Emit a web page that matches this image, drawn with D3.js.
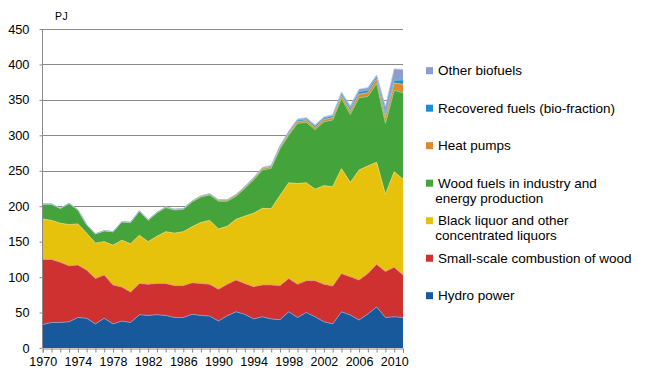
<!DOCTYPE html>
<html>
<head>
<meta charset="utf-8">
<script src="https://cdn.jsdelivr.net/npm/d3@7"></script>
<style>
  body { margin: 0; background: #fff; }
  svg { display: block; font-family: Arial, "Liberation Sans", sans-serif; }
</style>
</head>
<body>
<svg id="chart" width="645" height="380"></svg>
<script>
const years = d3.range(1970, 2012);

const hydroPower = [33, 36, 36, 37, 43, 42, 34, 42, 34, 38, 36, 47, 46, 47, 46, 43, 43, 47.5, 46, 45,
  38, 45.5, 51, 47.5, 41, 44, 41, 40, 51, 43, 50, 44, 37, 34, 51, 46.5, 39.5, 48, 58, 43, 44, 43];
const smallScaleWood = [92, 89, 85, 79, 74, 68, 64, 61, 55, 48, 43, 44, 44, 44, 45, 45, 45, 44.5, 45, 45,
  45, 44.5, 45, 43.5, 45.5, 45, 48, 48, 47, 47, 45, 51, 53, 53.5, 54, 54, 56.5, 57, 60, 65, 70, 60];
const blackLiquor = [57, 55, 55, 58, 58, 52, 50, 47, 56, 66, 68, 68, 60, 66.5, 73, 74, 76, 79, 86, 90,
  85, 81.6, 85.5, 95, 103.5, 108, 107.5, 127, 135, 142, 138, 129, 139, 140, 148, 133, 155, 151.7, 144, 108.7, 134.7, 135];
const woodFuels = [21, 23, 21, 30, 20, 12, 13, 15.5, 19, 26, 30, 34, 30, 33, 34, 32.6, 31.6, 35, 36, 36,
  39, 35.4, 32.5, 39, 47, 54, 57, 66, 67, 85, 85, 84, 90, 94, 99, 96, 102, 98, 111, 100, 115, 122];
const heatPumps = [0, 0, 0, 0, 0, 0, 0, 0, 0, 0, 0.3, 0.5, 0.7, 0.9, 1, 1.1, 1.2, 1.3, 1.4, 1.5,
  1.6, 1.7, 1.8, 1.9, 2, 2.1, 2.2, 2.3, 2.5, 2.6, 2.8, 3, 3.2, 3.5, 4, 4.5, 5, 5.5, 6.5, 8, 10, 12];
const recoveredFuels = [0, 0, 0, 0, 0, 0, 0, 0, 0, 0, 0, 0, 0, 0, 0, 0, 0, 0, 0, 0,
  0.3, 0.4, 0.5, 0.6, 0.8, 1, 1.2, 1.5, 2, 2, 2, 2.2, 2.3, 2.5, 3, 3.5, 3.5, 3.5, 3.5, 4, 4, 6];
const otherBiofuels = [0, 0, 0, 0, 0, 0, 0, 0, 0, 0, 0, 0, 0, 0, 0, 0, 0, 0, 0, 0,
  0.3, 0.3, 0.4, 0.4, 0.5, 0.5, 0.5, 0.5, 1.5, 1.5, 2, 1.5, 1.5, 1.5, 2, 4, 3.5, 3.5, 2, 12, 16, 15];

const seriesNames = [
  'Hydro power',
  'Small-scale combustion of wood',
  'Black liquor and other concentrated liquors',
  'Wood fuels in industry and energy production',
  'Heat pumps',
  'Recovered fuels (bio-fraction)',
  'Other biofuels',
];
const seriesValues = [hydroPower, smallScaleWood, blackLiquor, woodFuels, heatPumps, recoveredFuels, otherBiofuels];
const colors = ['#17599b', '#cf3030', '#e6c20c', '#45a33b', '#dc8a2c', '#1b8fd0', '#8c9dd0'];
const edgeColors = ['#7fa6d6', '#e58a8a', '#f0d86a', '#8fcf80', '#f0b878', '#6cc0ec', '#b8c4e6'];

// legend lines, top to bottom
const legendItems = [
  { key: 6, lines: ['Other biofuels'] },
  { key: 5, lines: ['Recovered fuels (bio-fraction)'] },
  { key: 4, lines: ['Heat pumps'] },
  { key: 3, lines: ['Wood fuels in industry and', 'energy production'] },
  { key: 2, lines: ['Black liquor and other', 'concentrated liquors'] },
  { key: 1, lines: ['Small-scale combustion of wood'] },
  { key: 0, lines: ['Hydro power'] },
];
const yTicks = d3.range(0, 451, 50);

const width = 645;
const height = 380;
const paddingLeft = 42.7;
const paddingRight = 242;
const paddingTop = 29;
const paddingBottom = 32;

const svg = d3.select('#chart');

function generateXScale() {
  return d3.scaleLinear()
    .domain([years[0], years[years.length - 1]])
    .range([paddingLeft, width - paddingRight]);
}

function generateYScale() {
  return d3.scaleLinear()
    .domain([0, 450])
    .range([height - paddingBottom, paddingTop]);
}

function drawGrid(xScale, yScale) {
  svg.append('g')
    .selectAll('line')
    .data(yTicks.filter((d) => d > 0))
    .join('line')
    .attr('x1', xScale.range()[0])
    .attr('x2', xScale.range()[1])
    .attr('y1', (d) => Math.round(yScale(d)) + 0.5)
    .attr('y2', (d) => Math.round(yScale(d)) + 0.5)
    .attr('stroke', '#8a8a8a')
    .attr('stroke-width', 1);
}

function drawAreas(xScale, yScale) {
  const table = years.map((year, i) => {
    const row = { year };
    seriesValues.forEach((values, k) => { row[k] = values[i]; });
    return row;
  });
  const stack = d3.stack().keys(d3.range(seriesValues.length));
  const layers = stack(table);
  const area = d3.area()
    .x((d) => xScale(d.data.year))
    .y0((d) => yScale(d[0]))
    .y1((d) => yScale(d[1]));
  const topLine = d3.line()
    .x((d) => xScale(d.data.year))
    .y((d) => yScale(d[1]));
  const g = svg.append('g');
  g.selectAll('path.layer')
    .data(layers)
    .join('path')
    .attr('class', 'layer')
    .attr('d', area)
    .attr('fill', (d) => colors[d.key]);
  g.selectAll('path.edge')
    .data(layers)
    .join('path')
    .attr('class', 'edge')
    .attr('d', topLine)
    .attr('fill', 'none')
    .attr('stroke', (d) => edgeColors[d.key])
    .attr('stroke-width', 0.8);
}

function drawXAxis(xScale, yScale) {
  const xAxis = d3.axisBottom(xScale)
    .tickValues(years)
    .tickSize(4)
    .tickPadding(5)
    .tickFormat((d) => ((d - 1970) % 4 === 0 ? d : ''));
  const g = svg.append('g')
    .attr('transform', `translate(0, ${Math.round(yScale(0)) + 0.5})`)
    .call(xAxis);
  g.select('.domain').attr('stroke', '#8a8a8a');
  g.selectAll('.tick line').attr('stroke', '#8a8a8a');
  g.selectAll('text')
    .attr('fill', '#000')
    .style('font-size', '12.5px')
    .style('font-family', 'Arial, "Liberation Sans", sans-serif');
}

function drawYAxis(yScale) {
  const yAxis = d3.axisLeft(yScale)
    .tickValues(yTicks)
    .tickSize(3)
    .tickPadding(10)
    .tickFormat(d3.format('d'));
  const g = svg.append('g')
    .attr('transform', `translate(${Math.round(paddingLeft) - 0.5}, 0)`)
    .call(yAxis);
  g.select('.domain').attr('stroke', '#8a8a8a').attr('d', `M0,${yScale(450)}V${yScale(0)}`);
  g.selectAll('.tick line').attr('stroke', '#8a8a8a');
  g.selectAll('text')
    .attr('fill', '#000')
    .style('font-size', '12.8px')
    .style('font-family', 'Arial, "Liberation Sans", sans-serif');
  svg.append('text')
    .attr('x', 55)
    .attr('y', 20)
    .style('font-size', '10.5px')
    .style('letter-spacing', '0.6px')
    .text('PJ');
}

function drawLegend() {
  const g = svg.append('g');
  legendItems.forEach((item, i) => {
    const y = 70.7 + i * 37.5;
    g.append('rect')
      .attr('x', 426)
      .attr('y', y - 3.5)
      .attr('width', 7)
      .attr('height', 7)
      .attr('fill', colors[item.key]);
    item.lines.forEach((line, j) => {
      g.append('text')
        .attr('x', j === 0 ? 438 : 435.3)
        .attr('y', y + j * 15)
        .attr('dy', '0.35em')
        .style('font-size', '13.5px')
        .attr('fill', '#000')
        .text(line);
    });
  });
}

function drawChart() {
  const xScale = generateXScale();
  const yScale = generateYScale();
  drawGrid(xScale, yScale);
  drawAreas(xScale, yScale);
  drawXAxis(xScale, yScale);
  drawYAxis(yScale);
  drawLegend();
}

drawChart();
</script>
</body>
</html>
